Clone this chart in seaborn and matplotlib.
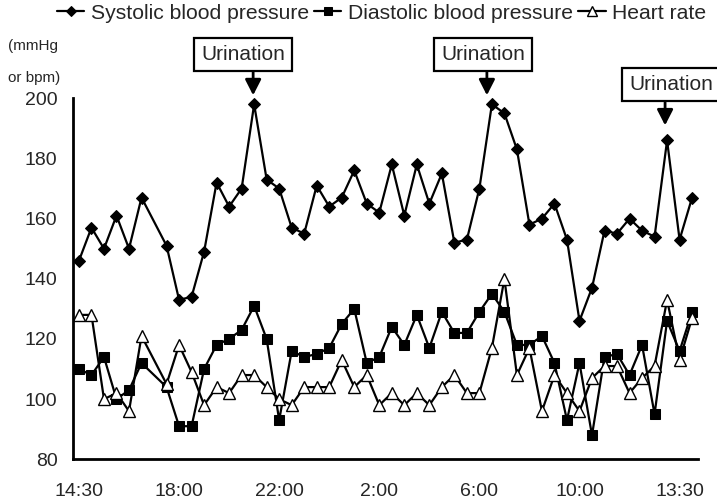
import numpy as np
import pandas as pd
import matplotlib
matplotlib.use("Agg")
import matplotlib.pyplot as plt
from matplotlib.transforms import offset_copy
import seaborn as sns

sns.set_style("white")
plt.rcParams["font.family"] = ["Liberation Sans", "DejaVu Sans"]

# one slot per reading, slot 6 has no reading
slot = list(range(50))
systolic = [146, 157, 150, 161, 150, 167, np.nan, 151, 133, 134,
            149, 172, 164, 170, 198, 173, 170, 157, 155, 171,
            164, 167, 176, 165, 162, 178, 161, 178, 165, 175,
            152, 153, 170, 198, 195, 183, 158, 160, 165, 153,
            126, 137, 156, 155, 160, 156, 154, 186, 153, 167]
diastolic = [110, 108, 114, 100, 103, 112, np.nan, 104, 91, 91,
             110, 118, 120, 123, 131, 120, 93, 116, 114, 115,
             117, 125, 130, 112, 114, 124, 118, 128, 117, 129,
             122, 122, 129, 135, 129, 118, 118, 121, 112, 93,
             112, 88, 114, 115, 108, 118, 95, 126, 116, 129]
heart_rate = [128, 128, 100, 102, 96, 121, np.nan, 105, 118, 109,
              98, 104, 102, 108, 108, 104, 100, 98, 104, 104,
              104, 113, 104, 108, 98, 102, 98, 102, 98, 104,
              108, 102, 102, 117, 140, 108, 117, 96, 108, 102,
              96, 107, 111, 111, 102, 107, 111, 133, 113, 127]
tick_slots = [0, 8, 16, 24, 32, 40, 48]
tick_labels = ["14:30", "18:00", "22:00", "2:00", "6:00", "10:00", "13:30"]
urination_slots = [14, 33, 47]

# layout of the callouts, in pixels relative to the peak
box_offsets = [(-11, 50), (-9, 50), (4, 56)]
arrow_offsets = [(-1, 32, 9), (-5, 32, 9), (-2, 38, 15)]

df = pd.DataFrame({"slot": slot, "Systolic": systolic,
                   "Diastolic": diastolic, "Heart": heart_rate})

fig = plt.figure(figsize=(7.17, 5.04), dpi=100)
ax = fig.add_axes([0.1014, 0.0887, 0.8726, 0.7163])

sns.lineplot(data=df.dropna(subset=["Systolic"]), x="slot", y="Systolic", ax=ax,
             color="black", lw=1.6, marker="D", markersize=6.5,
             markerfacecolor="black", markeredgecolor="black",
             label="Systolic blood pressure")
sns.lineplot(data=df.dropna(subset=["Diastolic"]), x="slot", y="Diastolic", ax=ax,
             color="black", lw=1.6, marker="s", markersize=7.5,
             markerfacecolor="black", markeredgecolor="black",
             label="Diastolic blood pressure")
sns.lineplot(data=df.dropna(subset=["Heart"]), x="slot", y="Heart", ax=ax,
             color="black", lw=1.6, marker="^", markersize=9,
             markerfacecolor="white", markeredgecolor="black", markeredgewidth=1,
             label="Heart rate")

ax.set_xlim(-0.5, 49.5)
ax.set_ylim(80, 200)
ax.set_yticks(range(80, 201, 20))
ax.set_xticks(tick_slots, tick_labels)
ax.set_xticks(np.arange(1.5, 50, 2), minor=True)
ax.set_xlabel("")
ax.set_ylabel("")
ax.tick_params(axis="x", which="major", length=0, pad=17, labelsize=14)
ax.tick_params(axis="x", which="minor", direction="in", length=4.5, width=1.3)
ax.tick_params(axis="y", direction="in", length=4.5, width=1.3, pad=11, labelsize=14)
for s in ["top", "right"]:
    ax.spines[s].set_visible(False)
for s in ["left", "bottom"]:
    ax.spines[s].set_linewidth(2)
    ax.spines[s].set_color("black")

# urination callouts
for k, s in enumerate(urination_slots):
    val = systolic[s]
    bx, by = box_offsets[k]
    ax.annotate("Urination", xy=(s, val), xytext=(bx, by), textcoords="offset pixels",
                ha="center", va="center", fontsize=15, annotation_clip=False,
                bbox=dict(boxstyle="square,pad=0.33", fc="white", ec="black", lw=1.6))
    adx, a0, a1 = arrow_offsets[k]
    ax.annotate("", xy=(s, val),
                xycoords=offset_copy(ax.transData, fig=fig, x=adx, y=a1, units="dots"),
                xytext=(s, val),
                textcoords=offset_copy(ax.transData, fig=fig, x=adx, y=a0, units="dots"),
                annotation_clip=False,
                arrowprops=dict(arrowstyle="-|>,head_length=0.47,head_width=0.24",
                                mutation_scale=20, lw=2, color="black",
                                shrinkA=0, shrinkB=0))

handles, labels = ax.get_legend_handles_labels()
ax.get_legend().remove()
fig.legend(handles, labels, loc="center", bbox_to_anchor=(0.532, 0.974), ncol=3,
           frameon=False, fontsize=15.2, handlelength=1.3, handletextpad=0.3,
           columnspacing=0.25, markerscale=0.75)

fig.text(8 / 717, 1 - 46 / 504, "(mmHg", fontsize=11, va="center")
fig.text(8 / 717, 1 - 78 / 504, "or bpm)", fontsize=11, va="center")

plt.savefig("out.png", dpi=100)
